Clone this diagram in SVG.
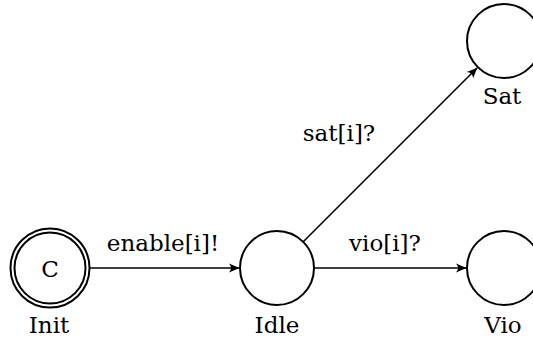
<svg xmlns="http://www.w3.org/2000/svg" width="533" height="345" viewBox="0 0 533 345">
  <style>
    .state { fill: #fff; stroke: #000; stroke-width: 2; }
    .edge { fill: none; stroke: #000; stroke-width: 1.6; }
    .lbl { font-family: 'DejaVu Serif', serif; font-size: 23px; fill: #000; text-anchor: middle; }
  </style>
  <defs>
    <marker id="arrow" viewBox="-12 -6 14 12" refX="0" refY="0" markerWidth="14" markerHeight="12" markerUnits="userSpaceOnUse" orient="auto">
      <path d="M0.5,0 L-10,-4.5 Q-6,0 -10,4.5 Z" fill="#000"/>
    </marker>
  </defs>

  <!-- transitions -->
  <g id="edges">
    <path class="edge" d="M90,268 L239,268" marker-end="url(#arrow)"/>
    <path class="edge" d="M314,268 L466,268" marker-end="url(#arrow)"/>
    <path class="edge" d="M303,242 L477,68" marker-end="url(#arrow)"/>
    <text class="lbl" x="163" y="251">enable[i]!</text>
    <text class="lbl" x="339" y="141">sat[i]?</text>
    <text class="lbl" x="385" y="251">vio[i]?</text>
  </g>

  <!-- committed initial location -->
  <g id="Init">
    <circle class="state" cx="50" cy="268" r="39.5"/>
    <circle class="state" cx="50" cy="268" r="35.5"/>
    <text class="lbl" x="50" y="277">C</text>
    <text class="lbl" x="49" y="333">Init</text>
  </g>

  <g id="Idle">
    <circle class="state" cx="277" cy="268" r="37"/>
    <text class="lbl" x="277" y="333">Idle</text>
  </g>

  <g id="Sat">
    <circle class="state" cx="504" cy="41" r="37"/>
    <text class="lbl" x="502" y="104">Sat</text>
  </g>

  <g id="Vio">
    <circle class="state" cx="504" cy="268" r="37"/>
    <text class="lbl" x="503" y="333">Vio</text>
  </g>
</svg>
